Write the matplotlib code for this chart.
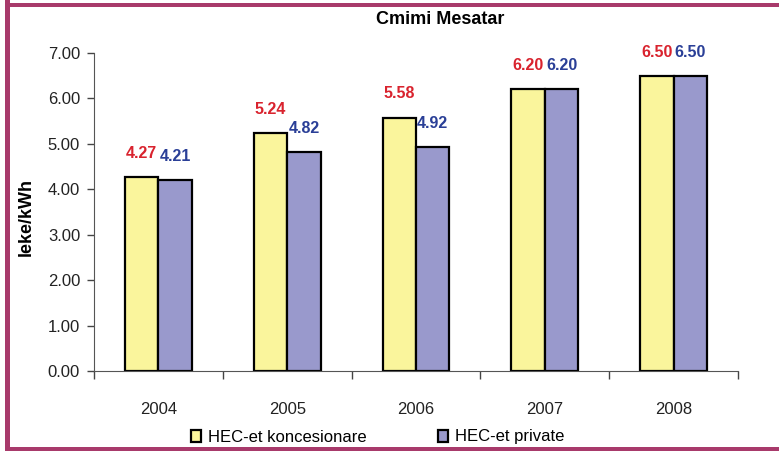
import numpy as np
import matplotlib.pyplot as plt
from matplotlib.patches import Patch, Rectangle

years = ['2004', '2005', '2006', '2007', '2008']
koncesionare = [4.27, 5.24, 5.58, 6.20, 6.50]
private = [4.21, 4.82, 4.92, 6.20, 6.50]
series_names = ['HEC-et koncesionare', 'HEC-et private']

yellow = '#faf59c'
purple = '#9999cc'
red = '#d9232e'
blue = '#2a3f97'
border = '#a83a6b'
plt.rcParams['font.family'] = ['Liberation Sans', 'DejaVu Sans']

fig = plt.figure(figsize=(7.79, 4.51), dpi=100)
ax = fig.add_axes([94/779, 1-371/451, 644/779, 318/451])

x = np.arange(len(years))
w = 0.26
ax.bar(x - w/2, koncesionare, w, color=yellow, edgecolor='black', linewidth=1.6)
ax.bar(x + w/2, private, w, color=purple, edgecolor='black', linewidth=1.6)

# value labels above the bars
for xi, v in zip(x, koncesionare):
    ax.annotate(f'{v:.2f}', (xi - w/2, v), xytext=(0, 17), textcoords='offset points',
                ha='center', va='center', color=red, fontsize=11.5, fontweight='bold')
for xi, v in zip(x, private):
    ax.annotate(f'{v:.2f}', (xi + w/2, v), xytext=(0, 17), textcoords='offset points',
                ha='center', va='center', color=blue, fontsize=11.5, fontweight='bold')

ax.set_xlim(-0.5, len(years) - 0.5)
ax.set_ylim(0, 7)
ax.set_yticks(np.arange(0, 7.01, 1))
ax.set_yticklabels([f'{t:.2f}' for t in np.arange(0, 7.01, 1)])
ax.set_xticks(np.arange(-0.5, len(years), 1))
ax.set_xticklabels([])
ax.set_xticks(x, minor=True)
ax.set_xticklabels(years, minor=True)
ax.tick_params(axis='x', which='minor', length=0, pad=22, labelsize=12, labelcolor='#222222')
ax.tick_params(axis='x', which='major', length=6, width=1, color='#444444', direction='out')
ax.tick_params(axis='y', length=5, width=1, color='#444444', pad=5, labelsize=12,
               labelcolor='#222222')

ax.spines['top'].set_visible(False)
ax.spines['right'].set_visible(False)
ax.spines['left'].set_color('#555555')
ax.spines['bottom'].set_color('#555555')

ax.set_ylabel('leke/kWh', fontsize=13, fontweight='bold', va='center')
ax.yaxis.set_label_coords(-68/644, 0.485)

fig.text(440/779, 1-20/451, 'Cmimi Mesatar', ha='center', va='center', fontsize=13,
         fontweight='bold')

handles = [Patch(facecolor=yellow, edgecolor='black', linewidth=1.6),
           Patch(facecolor=purple, edgecolor='black', linewidth=1.6)]
fig.legend(handles, series_names, loc='center left', bbox_to_anchor=(191/779, 1-437/451),
           ncol=2, frameon=False, fontsize=12, handlelength=0.6, handleheight=0.7,
           handletextpad=0.4, columnspacing=4.3, borderaxespad=0, borderpad=0)

# frame around the picture: left, top and bottom only
fig.add_artist(Rectangle((5/779, 0), 5/779, 1, transform=fig.transFigure, color=border, lw=0))
fig.add_artist(Rectangle((5/779, 1-7/451), 1, 4/451, transform=fig.transFigure, color=border, lw=0))
fig.add_artist(Rectangle((5/779, 0), 1, 4/451, transform=fig.transFigure, color=border, lw=0))

fig.savefig('out.png', dpi=100)
